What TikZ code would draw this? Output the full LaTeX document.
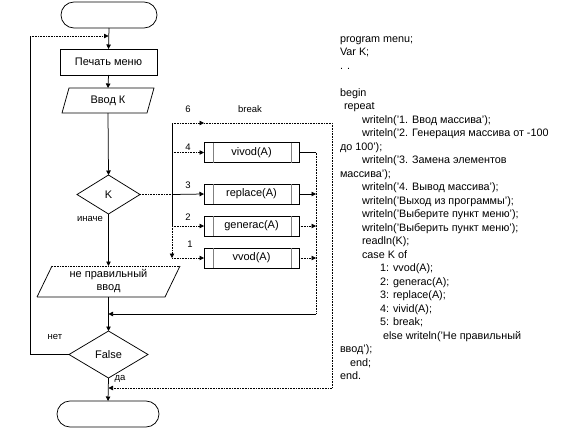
\documentclass[tikz,border=0pt]{standalone}
\usepackage{fontspec}
\setmainfont{Liberation Sans}
\usetikzlibrary{shapes.geometric,arrows.meta,calc}
\begin{document}
\begin{tikzpicture}[x=1pt,y=-1pt,
  line width=0.75pt,
  every node/.style={inner sep=0pt, outer sep=0pt},
  term/.style={draw, rounded corners=13pt, minimum height=26pt},
  procbox/.style={draw, minimum width=97pt, minimum height=26pt, font=\fontsize{11}{13}\selectfont},
  iobox/.style={font=\fontsize{11}{13}\selectfont, align=center},
  decision/.style={draw, diamond, font=\fontsize{11}{13}\selectfont},
  subbox/.style={draw, fill=white, minimum width=95pt, minimum height=20pt, font=\fontsize{11}{13}\selectfont},
  lbl/.style={font=\fontsize{9.5}{11}\selectfont},
  codeline/.style={font=\fontsize{10.8}{13}\selectfont, anchor=base west},
  arr/.style={-{Triangle[length=4.5pt,width=4.5pt]}},
  dotl/.style={dash pattern=on 0.8pt off 0.8pt},
]
\path[fill=white, use as bounding box] (0,0) rectangle (568,440);

% main column
\node[term, minimum width=96pt] (start) at (109,15) {};
\node[procbox] (print) at (108.5,62) {Печать меню};
\node[iobox, minimum width=92pt, minimum height=25pt] (inK) at (108,100.5) {Ввод К};
\draw (inK.south west) -- ($(inK.north west)+(7,0)$) -- (inK.north east) -- ($(inK.south east)-(7,0)$) -- cycle;
\node[decision, minimum width=63pt, minimum height=39pt] (K) at (108.5,194.5) {K};
\node[iobox, minimum width=143pt, minimum height=31pt] (wrong) at (108.5,281.5) {не правильный\\ввод};
\draw (wrong.south west) -- ($(wrong.north west)+(15,0)$);
\draw[dotl] ($(wrong.north west)+(15,0)$) -- (wrong.north east);
\draw (wrong.north east) -- ($(wrong.south east)-(15,0)$) -- (wrong.south west);
\node[decision, minimum width=79pt, minimum height=47pt] (false) at (108.5,354.5) {False};
\node[term, minimum width=102pt] (stop) at (108,414) {};

% sub-program boxes
\node[subbox] (vivod) at (251.5,152.5) {vivod(A)};
\node[subbox] (replace) at (251.5,194) {replace(A)};
\node[subbox] (generac) at (251.5,226) {generac(A)};
\node[subbox] (vvod) at (251.5,258) {vvod(A)};
\foreach \b in {vivod,replace,generac,vvod}{
  \draw[gray] ($(\b.north west)+(9,0)$) -- ($(\b.south west)+(9,0)$);
  \draw[gray] ($(\b.north east)-(8,0)$) -- ($(\b.south east)-(8,0)$);
}

% helper points
\coordinate (jt) at (108.5,36);
\coordinate (lt) at (30,36);
\coordinate (lb) at (30,354.5);
\coordinate (s6) at (172,123);
\coordinate (m6) at (204,123);
\coordinate (s4) at (172,152.5);
\coordinate (s3) at (172,194.5);
\coordinate (s2) at (172,226);
\coordinate (s1) at (172,258);
\coordinate (b1) at (332,123);
\coordinate (b2) at (332,388);
\coordinate (b3) at (108.5,388);
\coordinate (r4) at (316,152.5);
\coordinate (r3) at (316,194);
\coordinate (r2) at (316,226);
\coordinate (r1) at (316,258);
\coordinate (rb) at (316,314);
\coordinate (mj) at (108.5,314);

% main flow
\draw[arr] (start.south) -- (print.north);
\draw[arr] (print.south) -- (inK.north);
\draw[arr] (inK.south) -- (K.north);
\draw[arr] (K.south) -- (wrong.north);
\draw[arr] (wrong.south) -- (false.north);
\draw[arr] (false.south) -- (stop.north);
\draw (false.west) -- (lb) -- (lt);
\draw[dotl,arr] (lt) -- (jt);

% switch
\draw[dotl] (K.east) -- (s3);
\draw[arr] (s3) -- (replace.west);
\draw (s6) -- (s2);
\draw[dotl,arr] (s2) -- (s1);
\draw[dotl,arr] (s4) -- (vivod.west);
\draw[dotl,arr] (s2) -- (generac.west);
\draw[dotl,arr] (s1) -- (vvod.west);
\draw[dotl,arr] (s6) -- (m6);
\draw[dotl] (m6) -- (b1) -- (b2);
\draw[dotl,arr] (b2) -- (b3);

% outputs
\draw (vivod.east) -- (r4);
\draw[dotl] (r4) -- (rb);
\draw[arr] (rb) -- (mj);
\draw[arr] (replace.east) -- (r3);
\draw[dotl,arr] (generac.east) -- (r2);
\draw[dotl,arr] (vvod.east) -- (r1);

% labels
\node[lbl] (l6) at (188,109) {6};
\node[lbl] (lbreak) at (250,109) {break};
\node[lbl] (l4) at (188,147) {4};
\node[lbl] (l3) at (188,185) {3};
\node[lbl] (l2) at (188,217) {2};
\node[lbl] (l1) at (190,244) {1};
\node[lbl] (linache) at (90,219) {иначе};
\node[lbl] (lnet) at (55,337) {нет};
\node[lbl] (lda) at (120,379) {да};

% program text
\foreach \ind/\t [count=\i] in {
  0/{program menu;},
  0/{Var K;},
  0/{. .},
  0/{},
  0/{begin},
  4/{repeat},
  22/{writeln('1. Ввод массива');},
  22/{writeln('2. Генерация массива от -100},
  0/{до 100');},
  22/{writeln('3. Замена элементов},
  0/{массива');},
  22/{writeln('4. Вывод массива');},
  22/{writeln('Выход из программы');},
  22/{writeln('Выберите пункт меню');},
  22/{writeln('Выберить пункт меню');},
  22/{readln(K);},
  22/{case K of},
  40/{1: vvod(A);},
  40/{2: generac(A);},
  40/{3: replace(A);},
  40/{4: vivid(A);},
  40/{5: break;},
  43/{else writeln('Не правильный},
  0/{ввод');},
  10/{end;},
  0/{end.}}{
  \node[codeline] (c\i) at ({340+\ind},{42+13.5*(\i-1)}) {\t};
}
\end{tikzpicture}
\end{document}
